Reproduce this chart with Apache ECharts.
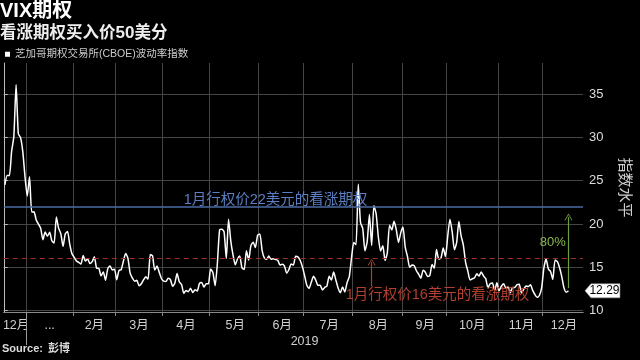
<!DOCTYPE html>
<html>
<head>
<meta charset="utf-8">
<script src="https://cdn.jsdelivr.net/npm/echarts@6/dist/echarts.min.js"></script>
<style>
html,body{margin:0;padding:0;background:#000;}
#chart{width:640px;height:360px;}
</style>
</head>
<body>
<div id="chart"></div>
<script>
// ---- Trading days (category axis), by month ----
const days_2018_12 = [17,18,19,20,21,24,26,27,28,31];
const days_2019_01 = [2,3,4,7,8,9,10,11,14,15,16,17,18,22,23,24,25,28,29,30,31];
const days_2019_02 = [1,4,5,6,7,8,11,12,13,14,15,19,20,21,22,25,26,27,28];
const days_2019_03 = [1,4,5,6,7,8,11,12,13,14,15,18,19,20,21,22,25,26,27,28,29];
const days_2019_04 = [1,2,3,4,5,8,9,10,11,12,15,16,17,18,22,23,24,25,26,29,30];
const days_2019_05 = [1,2,3,6,7,8,9,10,13,14,15,16,17,20,21,22,23,24,28,29,30,31];
const days_2019_06 = [3,4,5,6,7,10,11,12,13,14,17,18,19,20,21,24,25,26,27,28];
const days_2019_07 = [1,2,3,5,8,9,10,11,12,15,16,17,18,19,22,23,24,25,26,29,30,31];
const days_2019_08 = [1,2,5,6,7,8,9,12,13,14,15,16,19,20,21,22,23,26,27,28,29,30];
const days_2019_09 = [3,4,5,6,9,10,11,12,13,16,17,18,19,20,23,24,25,26,27,30];
const days_2019_10 = [1,2,3,4,7,8,9,10,11,14,15,16,17,18,21,22,23,24,25,28,29,30,31];
const days_2019_11 = [1,4,5,6,7,8,11,12,13,14,15,18,19,20,21,22,25,26,27,29];
const days_2019_12 = [2,3,4,5,6,9,10,11,12,13,16,17,18,19,20,23,24,26];

// ---- VIX closing values, by month ----
const vix_2018_12 = [24.52,25.58,25.58,28.38,30.11,36.07,30.41,29.96,28.34,25.42];
const vix_2019_01 = [23.22,25.45,21.38,21.40,20.47,19.98,19.50,18.19,19.07,18.60,19.04,18.06,17.80,20.80,19.52,18.89,17.42,18.87,19.13,17.66,16.57];
const vix_2019_02 = [16.14,15.73,15.57,15.38,16.37,15.72,15.97,15.43,15.65,16.22,14.91,14.88,14.02,14.46,13.51,14.85,15.17,14.70,14.78];
const vix_2019_03 = [13.57,14.63,14.74,15.74,16.59,16.05,14.33,13.77,13.41,13.50,12.88,13.10,13.56,13.91,13.63,16.48,16.33,14.68,15.15,14.43,13.71];
const vix_2019_04 = [13.40,13.36,13.74,13.58,12.82,13.18,14.28,13.30,13.02,12.01,12.32,12.18,12.60,12.09,12.42,12.28,13.14,13.25,12.73,13.11,13.12];
const vix_2019_05 = [14.80,14.42,12.87,15.44,19.32,19.40,19.10,16.04,20.55,18.06,16.44,15.29,15.96,16.31,14.95,14.75,16.92,15.85,17.50,17.90,17.30,18.71];
const vix_2019_06 = [18.86,16.97,16.09,15.93,16.30,15.94,15.99,15.91,15.82,15.28,15.35,15.15,14.33,14.75,15.40,15.26,16.28,16.21,15.82,15.08];
const vix_2019_07 = [14.06,12.93,12.57,13.28,13.96,13.53,12.93,12.93,12.39,12.68,12.86,13.97,13.53,14.45,13.53,12.61,12.07,12.74,12.16,13.24,13.94,16.12];
const vix_2019_08 = [17.87,17.61,24.59,20.17,19.49,16.91,17.97,21.09,17.52,22.10,21.18,18.47,16.88,17.50,15.80,16.68,19.87,19.32,20.31,19.35,17.88,18.98];
const vix_2019_09 = [19.66,17.33,16.27,15.00,15.27,15.20,14.61,14.22,13.74,14.67,14.44,13.95,14.05,15.32,14.91,17.05,15.96,16.07,17.22,16.24];
const vix_2019_10 = [18.56,20.56,19.12,17.04,17.86,20.28,18.64,17.57,15.58,14.57,13.54,13.68,13.79,14.25,14.00,14.46,14.01,13.71,12.65,13.11,13.20,12.33,13.22];
const vix_2019_11 = [12.30,12.83,13.10,12.62,12.73,12.07,12.69,12.68,13.00,13.05,12.05,12.46,12.86,12.78,12.98,12.34,11.87,11.54,11.75,12.62];
const vix_2019_12 = [14.91,15.96,14.80,14.52,13.62,15.86,15.68,14.99,13.94,12.63,12.14,12.29];

// ---- Axis ticks / reference levels ----
const yTicks = [10,15,20,25,30,35];
const yMin = 9.85, yMax = 38.57;
const strikeHigh = 22;
const strikeLow = 16;
const seriesName = '芝加哥期权交易所(CBOE)波动率指数';

const months = [
  ['2018-12', days_2018_12, vix_2018_12],
  ['2019-01', days_2019_01, vix_2019_01],
  ['2019-02', days_2019_02, vix_2019_02],
  ['2019-03', days_2019_03, vix_2019_03],
  ['2019-04', days_2019_04, vix_2019_04],
  ['2019-05', days_2019_05, vix_2019_05],
  ['2019-06', days_2019_06, vix_2019_06],
  ['2019-07', days_2019_07, vix_2019_07],
  ['2019-08', days_2019_08, vix_2019_08],
  ['2019-09', days_2019_09, vix_2019_09],
  ['2019-10', days_2019_10, vix_2019_10],
  ['2019-11', days_2019_11, vix_2019_11],
  ['2019-12', days_2019_12, vix_2019_12]
];

const categories = [];
const values = [];
const monthFirstIdx = [];
months.forEach(([ym, days, vals]) => {
  monthFirstIdx.push(categories.length);
  days.forEach((d, k) => {
    categories.push(ym + '-' + String(d).padStart(2, '0'));
    values.push(k < vals.length ? vals[k] : null);
  });
});
monthFirstIdx.push(categories.length);
const N = categories.length;
// month boundaries (between trading days), in band units
const monthBoundaries = monthFirstIdx.slice(1, -1);
const labelIdx = {};
for (let m = 0; m < months.length; m++) {
  labelIdx[Math.round((monthFirstIdx[m] + monthFirstIdx[m + 1]) / 2 - 0.5)] = true;
}
const jan2019Idx = monthFirstIdx[1];
const yearLabelPos = (jan2019Idx + N) / 2;
let lastIdx = values.length - 1;
while (values[lastIdx] == null) lastIdx--;
const lastDate = categories[lastIdx];
const lastVal = values[lastIdx];

const FONT = "'Liberation Sans', 'Noto Sans CJK SC', sans-serif";
const arrowHead = 'path://M0,10L5,0L10,10L9,10.6L5,2.2L1,10.6Z';
const GRID = '#454545';
const AXIS = '#8a8a8a';

const chart = echarts.init(document.getElementById('chart'), null, {renderer: 'canvas'});
chart.setOption({
  backgroundColor: '#000',
  animation: false,
  textStyle: {fontFamily: FONT},
  title: [
    {text: '{b|VIX}{n|期权}', left: 0, top: 1, padding: 0,
     textStyle: {rich: {b: {fontSize: 20, fontWeight: 'bold', color: '#fff', fontFamily: FONT},
                        n: {fontSize: 20, color: '#fff', fontFamily: FONT}}}},
    {text: '{n|看涨期权买入价}{b|50}{n|美分}', left: 0, top: 25, padding: 0,
     textStyle: {rich: {b: {fontSize: 17, fontWeight: 'bold', color: '#eee', fontFamily: FONT},
                        n: {fontSize: 16.5, color: '#eee', fontFamily: FONT}}}},
    {text: '{b|Source:} {n|彭博}', left: 2, bottom: 2, padding: 0,
     textStyle: {rich: {b: {fontSize: 11, fontWeight: 'bold', color: '#ddd', fontFamily: FONT},
                        n: {fontSize: 11, color: '#ddd', fontFamily: FONT}}}}
  ],
  legend: {
    data: [{name: seriesName, icon: 'rect'}],
    left: 5, top: 49, padding: 0, itemWidth: 5, itemHeight: 5,
    textStyle: {color: '#ccc', fontSize: 10.5, fontFamily: FONT},
    selectedMode: false
  },
  grid: {left: -1, right: 52, top: 63, bottom: 48, containLabel: false},
  xAxis: [
    {
      // trading-day category axis carrying the data and month labels
      type: 'category', data: categories, boundaryGap: true,
      axisLine: {show: true, lineStyle: {color: AXIS, width: 1}},
      axisTick: {show: false},
      splitLine: {show: false},
      axisLabel: {
        interval: (i) => !!labelIdx[i], margin: 7, color: '#cfcfcf', fontSize: 12.5,
        formatter: (v) => {
          const y = v.slice(0, 4), m = parseInt(v.slice(5, 7), 10);
          if (y === '2019' && m === 1) return '...';
          return m + '月';
        }
      }
    },
    {
      // band-unit axis for month boundaries: ticks, vertical grid
      type: 'value', min: 0, max: N, position: 'bottom',
      axisLine: {show: true, lineStyle: {color: AXIS}},
      axisTick: {show: true, customValues: monthBoundaries, length: 4, lineStyle: {color: AXIS}},
      axisLabel: {show: false},
      splitLine: {show: true, lineStyle: {color: GRID, width: 1}}
    },
    {
      // year label
      type: 'value', min: 0, max: N, position: 'bottom',
      axisLine: {show: false},
      axisTick: {show: false},
      axisLabel: {show: true, customValues: [yearLabelPos], formatter: () => '2019', margin: 23, color: '#cfcfcf', fontSize: 12.5},
      splitLine: {show: false}
    }
  ],
  yAxis: {
    type: 'value', position: 'right', min: yMin, max: yMax,
    axisLine: {show: true, lineStyle: {color: '#bdbdbd'}},
    axisTick: {show: true, customValues: yTicks, length: 4, lineStyle: {color: '#bdbdbd'}},
    axisLabel: {customValues: yTicks, color: '#dcdcdc', fontSize: 13, margin: 6},
    splitLine: {show: true, lineStyle: {color: GRID, width: 1}},
    name: '指数水平', nameLocation: 'middle', nameRotate: -90, nameGap: 34,
    nameTextStyle: {color: '#cfcfcf', fontSize: 15, fontFamily: FONT}
  },
  series: [
    {
      name: 'annotations', type: 'line', data: [], z: 2, silent: true,
      markLine: {
        silent: true, symbol: ['none', 'none'], label: {show: false}, animation: false,
        data: [
          {yAxis: strikeHigh, lineStyle: {color: '#4c6ca3', width: 1.5, type: 'solid'}},
          {yAxis: strikeLow, lineStyle: {color: '#9e3026', width: 1.2, type: [5, 4]}},
          [
            {coord: ['2019-08-13', 12.85], symbol: 'none', lineStyle: {color: '#a8432f', width: 1.2, type: 'solid'}},
            {coord: ['2019-08-13', 15.6], symbol: arrowHead, symbolSize: [8, 7]}
          ],
          [
            {coord: [lastDate, 12.6], symbol: 'none', lineStyle: {color: '#6f9e3f', width: 1.2, type: 'solid'}},
            {coord: [lastDate, 20.8], symbol: arrowHead, symbolSize: [8, 7]}
          ]
        ]
      },
      markPoint: {
        silent: true, symbol: 'circle', symbolSize: 1, itemStyle: {color: 'rgba(0,0,0,0)'}, animation: false,
        data: [
          {coord: ['2019-06-12', strikeHigh],
           label: {show: true, position: 'inside', offset: [0, -7], formatter: '1月行权价22美元的看涨期权',
                   color: '#5a7fc2', fontSize: 14.5, fontFamily: FONT}},
          {coord: ['2019-09-24', strikeLow],
           label: {show: true, position: 'inside', offset: [1, 36], formatter: '1月行权价16美元的看涨期权',
                   color: '#b2402e', fontSize: 14.5, fontFamily: FONT}},
          {coord: ['2019-12-06', 17.9],
           label: {show: true, position: 'inside', formatter: '80%', color: '#86ba4a', fontSize: 13, fontFamily: FONT}}
        ]
      }
    },
    {
      name: seriesName, type: 'line', data: values, z: 3,
      symbol: 'none', smooth: 0.2, connectNulls: false,
      lineStyle: {color: '#ffffff', width: 1.5},
      itemStyle: {color: '#ffffff'},
      markPoint: {
        silent: true, animation: false,
        symbol: 'path://M0,6.5L6,0L35,0L35,13L6,13Z', symbolSize: [35, 14], symbolOffset: [34, 0],
        symbolKeepAspect: false,
        itemStyle: {color: '#ffffff', borderColor: '#999', borderWidth: 0.5},
        data: [{coord: [lastDate, lastVal], value: lastVal,
                label: {show: true, position: 'inside', offset: [2, 0], formatter: String(lastVal),
                        color: '#000', fontSize: 12, fontFamily: FONT}}]
      }
    }
  ]
});

// Year separator below the axis, positioned through the chart's own scales
const axisY = chart.convertToPixel({yAxisIndex: 0}, yMin);
const sepX = Math.round(chart.convertToPixel({xAxisIndex: 1}, jan2019Idx)) + 0.5;
chart.setOption({graphic: [
  {type: 'line', silent: true, z: 50,
   shape: {x1: sepX, y1: axisY, x2: sepX, y2: axisY + 33},
   style: {stroke: '#9a9a9a', lineWidth: 1}}
]});
</script>
</body>
</html>
